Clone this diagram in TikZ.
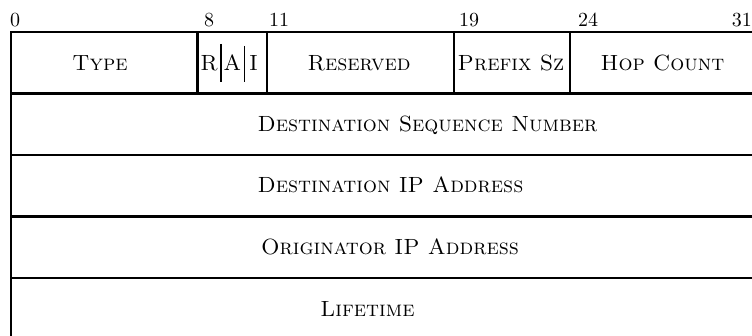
\documentclass[tikz,border=0pt]{standalone}
\usepackage{fontspec}
\setmainfont{lmroman10-regular.otf}[SmallCapsFont=lmromancaps10-regular.otf]
\newcommand\fieldfont{\fontsize{22}{26}\selectfont\scshape}
\newcommand\numfont{\fontsize{20}{24}\selectfont}
\begin{document}
\begin{tikzpicture}[x=1pt,y=-1pt,
  frame/.style={line width=2.2pt},
  thinsep/.style={line width=1pt},
  field/.style={font=\fieldfont, inner sep=0pt, anchor=base},
  flag/.style={font=\fieldfont, inner sep=0pt, anchor=base},
  bitnum/.style={font=\numfont, inner sep=0pt, anchor=base west}]
\useasboundingbox (0,0) rectangle (752,336);
\clip (0,0) rectangle (752,336);
% bit positions: x = 11 + 23.3*bit ; row boundaries
\def\bw{23.3}
% outer frame and row separators
\draw[frame] (11,32) rectangle ({11+32*\bw},339.5);
\foreach \yy in {93.5,155,216.5,278}
  \draw[frame] (11,\yy) -- ({11+32*\bw},\yy);
% field boundaries of the first word
\foreach \b in {8,11,19,24}
  \draw[frame] ({11+\b*\bw},32) -- ({11+\b*\bw},93.5);
% separators between the R, A and I flags
\draw[frame] ({11+9*\bw},44) -- ({11+9*\bw},82);
\draw[thinsep] ({11+10*\bw},46) -- ({11+10*\bw},82);
% bit numbers
\node[bitnum] (b0)  at (10,26.7)    {0};
\node[bitnum] (b8)  at (204,26.7)   {8};
\node[bitnum] (b11) at (269,26.7)   {11};
\node[bitnum] (b19) at (459,26.7)   {19};
\node[bitnum] (b24) at (578,26.7)   {24};
\node[bitnum] (b31) at (731.7,26.7) {31};
% first word
\node[field] (type)  at (100,70.5)  {Type};
\node[flag]  (fr)    at ({11+8.5*\bw},70.5)  {R};
\node[flag]  (fa)    at ({11+9.5*\bw},70.5)  {A};
\node[flag]  (fi)    at ({11+10.5*\bw-2},70.5) {I};
\node[field] (resv)  at (359,70.5)  {Reserved};
\node[field] (pfx)   at (511,70.5)  {Prefix Sz};
\node[field] (hops)  at (662.5,70.5) {Hop Count};
% remaining words
\node[field] (dsn)   at (427.5,131.7) {Destination Sequence Number};
\node[field] (dip)   at (390.5,193)   {Destination IP Address};
\node[field] (oip)   at (390,254.5)   {Originator IP Address};
\node[field] (life)  at (367.5,316.5) {Lifetime};
\end{tikzpicture}
\end{document}
